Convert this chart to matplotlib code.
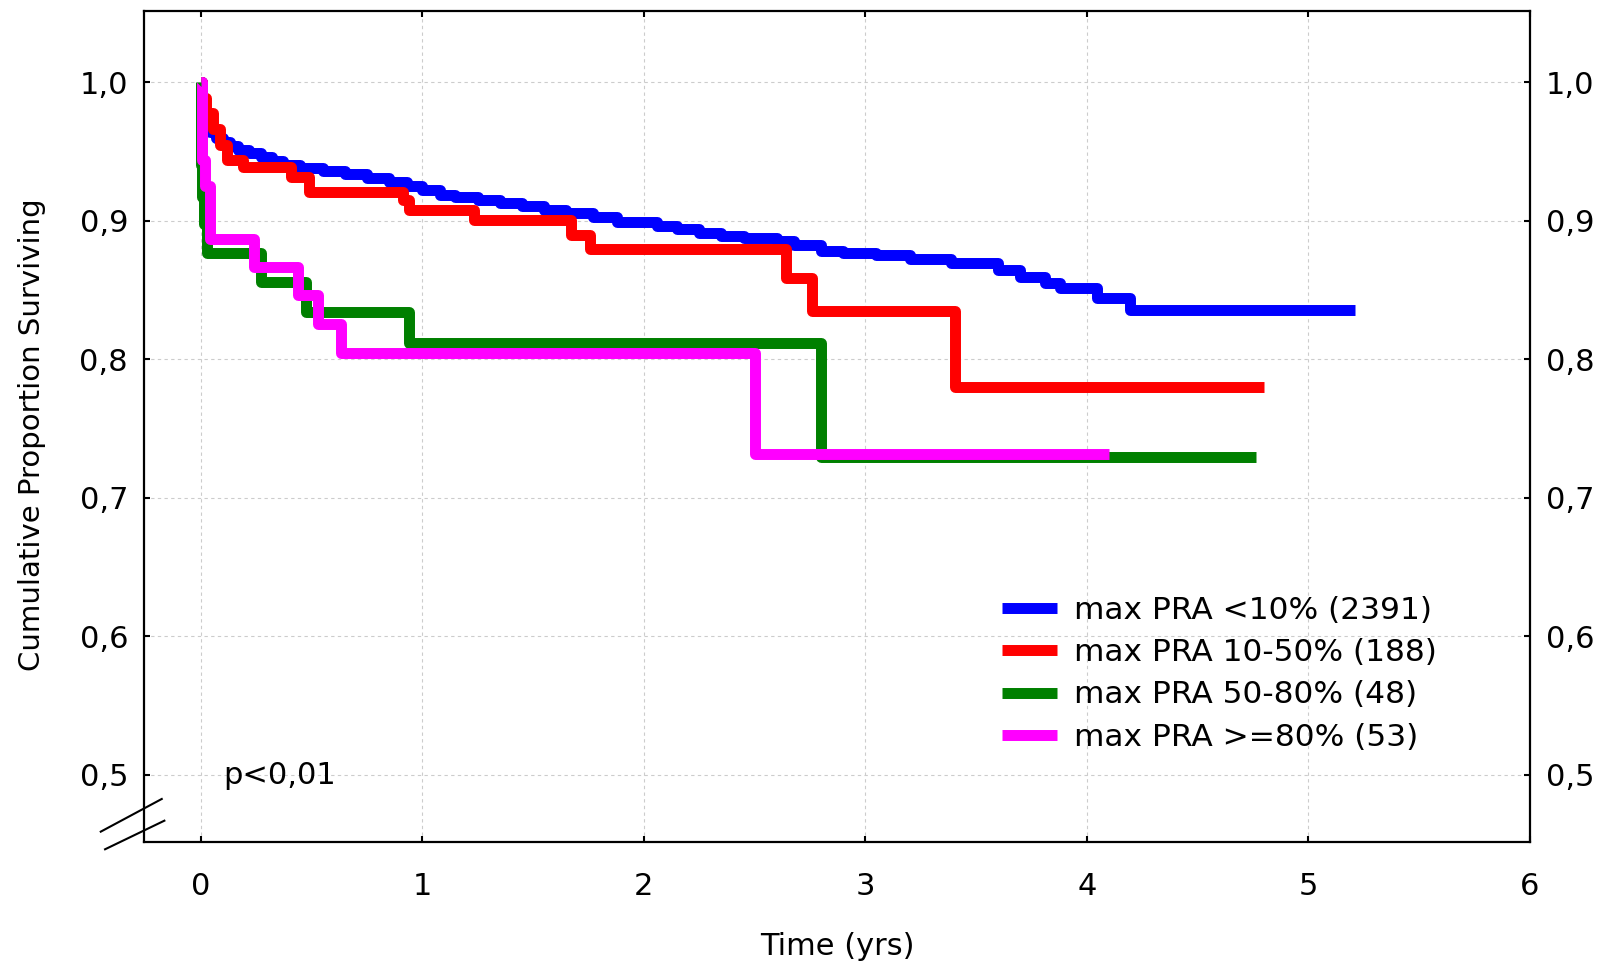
import matplotlib
matplotlib.use('Agg')
import matplotlib.pyplot as plt

plt.rcParams['font.family'] = ['DejaVu Sans']

# ---- data ----
x_ticks = [0, 1, 2, 3, 4, 5, 6]
x_ticklabels = ['0', '1', '2', '3', '4', '5', '6']
y_ticks = [0.5, 0.6, 0.7, 0.8, 0.9, 1.0]
y_ticklabels = ['0,5', '0,6', '0,7', '0,8', '0,9', '1,0']

series_labels = ['max PRA <10% (2391)', 'max PRA 10-50% (188)',
                 'max PRA 50-80% (48)', 'max PRA >=80% (53)']
series_colors = ['#0000FF', '#FF0000', '#008000', '#FF00FF']

blue_t = [0, 0.005, 0.01, 0.02, 0.04, 0.07, 0.10, 0.13, 0.17, 0.22, 0.27, 0.32,
          0.37, 0.45, 0.55, 0.65, 0.75, 0.85, 0.93, 1.00, 1.08, 1.15, 1.25, 1.35,
          1.45, 1.55, 1.65, 1.77, 1.88, 2.06, 2.15, 2.25, 2.35, 2.45, 2.60, 2.68,
          2.80, 2.90, 3.05, 3.20, 3.385, 3.60, 3.70, 3.81, 3.88, 4.045, 4.195, 5.21]
blue_s = [1.0, 0.985, 0.975, 0.968, 0.964, 0.960, 0.957, 0.954, 0.951, 0.949, 0.946, 0.943,
          0.940, 0.938, 0.936, 0.934, 0.931, 0.928, 0.925, 0.922, 0.919, 0.917, 0.915, 0.913,
          0.911, 0.908, 0.906, 0.903, 0.8993, 0.8965, 0.894, 0.891, 0.889, 0.8875, 0.8855, 0.8825,
          0.878, 0.8765, 0.8753, 0.8726, 0.8693, 0.8645, 0.8592, 0.8553, 0.8512, 0.8445, 0.8356, 0.8356]

red_t = [0, 0.005, 0.025, 0.055, 0.085, 0.117, 0.192, 0.409, 0.49, 0.911, 0.942,
         1.234, 1.672, 1.755, 2.643, 2.760, 3.406, 4.80]
red_s = [1.0, 0.989, 0.978, 0.966, 0.955, 0.944, 0.939, 0.932, 0.921, 0.9154, 0.9077,
         0.9005, 0.890, 0.880, 0.8585, 0.835, 0.780, 0.780]

green_t = [0, 0.003, 0.008, 0.015, 0.03, 0.274, 0.477, 0.938, 2.80, 4.765]
green_s = [1.0, 0.94, 0.917, 0.898, 0.8765, 0.856, 0.8345, 0.8116, 0.7298, 0.7298]

magenta_t = [0, 0.005, 0.02, 0.04, 0.24, 0.44, 0.529, 0.634, 2.50, 4.10]
magenta_s = [1.0, 0.944, 0.925, 0.887, 0.8665, 0.8464, 0.8258, 0.8045, 0.7316, 0.7316]

p_text = 'p<0,01'

# ---- figure ----
W, H = 1614, 965
fig = plt.figure(figsize=(W / 100, H / 100), dpi=100)
L, R, T, B = 144, 1530, 10.7, 842.3
ax = fig.add_axes([L / W, 1 - B / H, (R - L) / W, (B - T) / H])

for t, s, c, lab in zip([blue_t, red_t, green_t, magenta_t],
                        [blue_s, red_s, green_s, magenta_s],
                        series_colors, series_labels):
    ax.step(t, s, where='post', color=c, lw=7.9, label=lab,
            solid_joinstyle='round', solid_capstyle='butt')

ax.set_xlim(-0.256, 6)
ax.set_ylim(0.4514, 1.0517)
ax.set_xticks(x_ticks)
ax.set_xticklabels(x_ticklabels)
ax.set_yticks(y_ticks)
ax.set_yticklabels(y_ticklabels)

ax.grid(True, color='#cccccc', linestyle=(0, (3, 3)), linewidth=0.8)
ax.set_axisbelow(True)
ax.tick_params(direction='in', length=4.5, width=1.5, top=True, right=True,
               labelright=True, labelsize=22, colors='black')
ax.tick_params(axis='x', pad=21.5)
ax.tick_params(axis='y', pad=11.5)
for sp in ax.spines.values():
    sp.set_linewidth(1.6)
    sp.set_color('black')

ax.set_xlabel('Time (yrs)', fontsize=22, labelpad=22)
ax.set_ylabel('Cumulative Proportion Surviving', fontsize=21)
ax.yaxis.set_label_coords(-0.071, 0.4904)

leg = ax.legend(loc='upper left', bbox_to_anchor=(0.6188, 0.2959), frameon=False,
                fontsize=22.5, handlelength=1.78, handletextpad=0.55,
                labelspacing=0.42, borderpad=0, borderaxespad=0)
for h in leg.get_lines():
    h.set_linewidth(7.9)

ax.text(0.102, 0.4935, p_text, fontsize=22, va='baseline')

# axis break marks
ax.plot([-0.0312, 0.0128], [0.0128, 0.0521], transform=ax.transAxes,
        clip_on=False, color='black', lw=1.5)
ax.plot([-0.0281, 0.0147], [-0.0084, 0.026], transform=ax.transAxes,
        clip_on=False, color='black', lw=1.5)

fig.savefig('out.png', dpi=100)
